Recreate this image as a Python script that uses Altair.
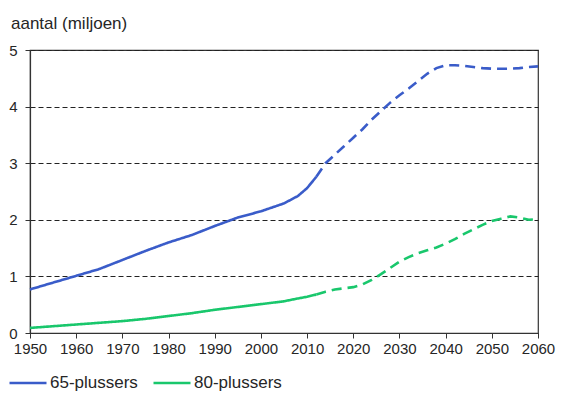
import altair as alt
import pandas as pd

# 65-plussers (miljoen)
years_65_hist = [1950, 1955, 1960, 1965, 1970, 1975, 1980, 1985, 1990, 1995, 2000, 2005, 2008, 2010, 2012]
vals_65_hist = [0.77, 0.89, 1.01, 1.13, 1.29, 1.45, 1.60, 1.73, 1.89, 2.04, 2.15, 2.29, 2.42, 2.56, 2.76]
years_65_proj = [2012, 2013, 2014, 2016, 2018, 2020, 2022, 2024, 2026, 2028, 2030, 2032, 2034, 2036, 2038,
                 2040, 2042, 2044, 2046, 2048, 2050, 2052, 2054, 2056, 2058, 2060]
vals_65_proj = [2.76, 2.88, 3.00, 3.15, 3.30, 3.45, 3.60, 3.77, 3.92, 4.07, 4.20, 4.32, 4.45, 4.58, 4.68,
                4.73, 4.73, 4.72, 4.70, 4.68, 4.67, 4.67, 4.67, 4.68, 4.70, 4.71]

# 80-plussers (miljoen)
years_80_hist = [1950, 1955, 1960, 1965, 1970, 1975, 1980, 1985, 1990, 1995, 2000, 2005, 2008, 2010, 2012]
vals_80_hist = [0.09, 0.12, 0.15, 0.18, 0.21, 0.25, 0.30, 0.35, 0.41, 0.46, 0.51, 0.56, 0.61, 0.64, 0.68]
years_80_proj = [2012, 2014, 2016, 2018, 2020, 2022, 2024, 2026, 2028, 2030, 2032, 2034, 2036, 2038,
                 2040, 2042, 2044, 2046, 2048, 2050, 2052, 2054, 2056, 2058, 2060]
vals_80_proj = [0.68, 0.73, 0.77, 0.79, 0.81, 0.86, 0.94, 1.04, 1.15, 1.26, 1.34, 1.41, 1.46, 1.51,
                1.58, 1.66, 1.75, 1.83, 1.91, 1.98, 2.02, 2.06, 2.04, 2.00, 2.01]

series_names = ["65-plussers", "80-plussers"]
series_colors = ["#3a5cc9", "#19c76c"]
x_ticks = list(range(1950, 2061, 10))
y_ticks = [0, 1, 2, 3, 4, 5]

rows = []
for name, typ, ys, vs in [
    ("65-plussers", "hist", years_65_hist, vals_65_hist),
    ("65-plussers", "proj", years_65_proj, vals_65_proj),
    ("80-plussers", "hist", years_80_hist, vals_80_hist),
    ("80-plussers", "proj", years_80_proj, vals_80_proj),
]:
    for y, v in zip(ys, vs):
        rows.append({"jaar": y, "aantal": v, "serie": name, "type": typ})
df = pd.DataFrame(rows)

chart = alt.Chart(df).mark_line(strokeWidth=2.6).encode(
    x=alt.X("jaar:Q", scale=alt.Scale(domain=[1950, 2060], nice=False, zero=False),
            axis=alt.Axis(values=x_ticks, format="d", title=None, grid=False,
                          tickSize=5, labelPadding=3, labelOverlap=False,
                          labelFlush=False)),
    y=alt.Y("aantal:Q", scale=alt.Scale(domain=[0, 5], nice=False),
            axis=alt.Axis(values=y_ticks, title=None, grid=True, gridDash=[5, 3],
                          gridColor="#222222", gridWidth=1, gridOpacity=1,
                          tickSize=5, labelPadding=8, labelOverlap=False)),
    color=alt.Color("serie:N", scale=alt.Scale(domain=series_names, range=series_colors),
                    legend=alt.Legend(title=None, orient="none", legendX=-22, legendY=313,
                                      direction="horizontal", symbolType="stroke",
                                      symbolSize=1369, symbolStrokeWidth=2.6,
                                      labelFontSize=17, labelOffset=2, columnPadding=10,
                                      labelLimit=300, labelColor="#262626",
                                      labelFont="Liberation Sans")),
    strokeDash=alt.StrokeDash("type:N", scale=alt.Scale(domain=["hist", "proj"],
                                                       range=[[1, 0], [10, 6]]), legend=None),
    order=alt.Order("jaar:Q"),
).properties(
    width=508, height=283,
    title=alt.TitleParams("aantal (miljoen)", anchor="start", frame="group", dx=-19,
                          offset=10, fontSize=17, fontWeight="normal", color="#262626",
                          font="Liberation Sans"),
    autosize=alt.AutoSizeParams(type="none"),
    padding={"left": 22, "top": 42, "right": 21, "bottom": 60},
).configure_axis(
    labelFont="Liberation Sans", labelFontSize=15, labelColor="#262626",
    domainColor="#333333", tickColor="#333333", domainWidth=1.2,
).configure_view(
    stroke="#333333", strokeWidth=1.2,
)

chart.save("out.html", embed_options={"renderer": "svg", "actions": False})
